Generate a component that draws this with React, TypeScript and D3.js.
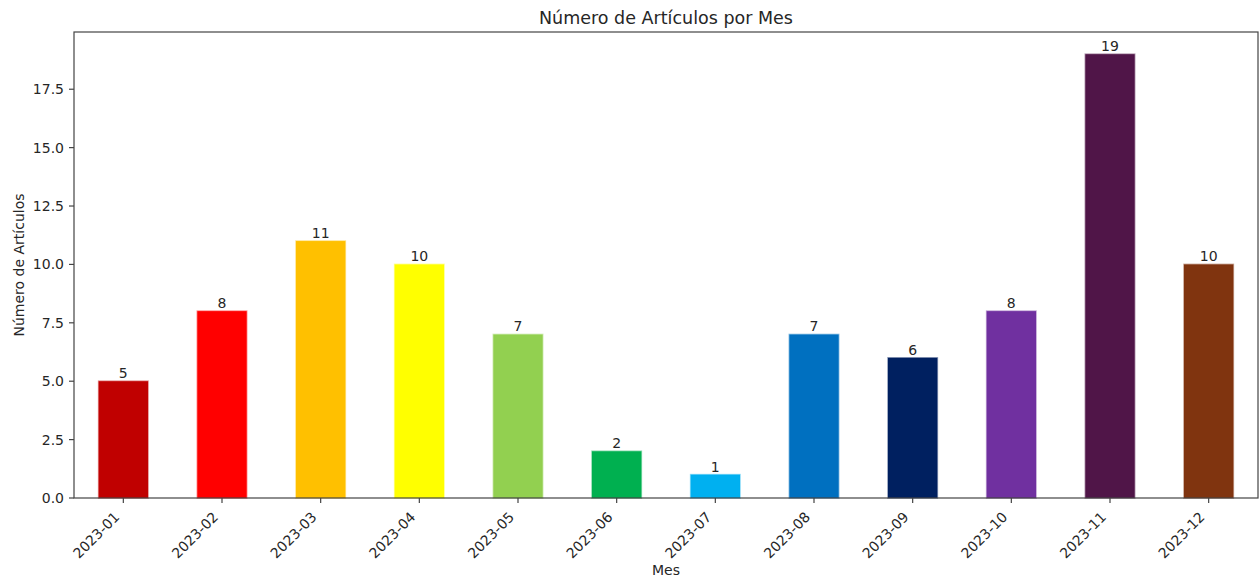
import React from "react";
import * as d3 from "d3";

const months = ["2023-01","2023-02","2023-03","2023-04","2023-05","2023-06","2023-07","2023-08","2023-09","2023-10","2023-11","2023-12"];
const counts = [5, 8, 11, 10, 7, 2, 1, 7, 6, 8, 19, 10];
const colors = ["#C00000","#FF0000","#FFC000","#FFFF00","#92D050","#00B050","#00B0F0","#0070C0","#002060","#7030A0","#501548","#80340F"];
const yTicks = [0, 2.5, 5, 7.5, 10, 12.5, 15, 17.5];

const W = 1260, H = 577;
const M = { left: 74, right: 1258, top: 32, bottom: 498 };
const FONT = "DejaVu Sans, sans-serif";
const TXT = "#262626";
const AX = "#444";
const FS = 14;

export default function App() {
  const x = d3.scaleLinear().domain([-0.5, months.length - 0.5]).range([M.left, M.right]);
  const y = d3.scaleLinear().domain([0, d3.max(counts)! * 1.05]).range([M.bottom, M.top]);
  const bw = x(0.25) - x(-0.25);
  return (
    <svg width={W} height={H} style={{ position: "absolute", left: 0, top: 0, background: "#fff" }} fontFamily={FONT}>
      <text x={(M.left + M.right) / 2} y={24} textAnchor="middle" fontSize={17.5} fill={TXT}>Número de Artículos por Mes</text>
      {counts.map((v, i) => (
        <g key={i}>
          <rect x={x(i) - bw / 2} y={y(v)} width={bw} height={y(0) - y(v)} fill={colors[i]} stroke={colors[i]} strokeOpacity={0.45} strokeWidth={1.6} />
          <text x={x(i)} y={y(v) - 3} textAnchor="middle" fontSize={FS} fill={TXT}>{v}</text>
        </g>
      ))}
      <rect x={M.left} y={M.top} width={M.right - M.left} height={M.bottom - M.top} fill="none" stroke={AX} strokeWidth={1.2} />
      {yTicks.map((t) => (
        <g key={t} transform={`translate(0,${y(t)})`}>
          <line x1={M.left - 5} x2={M.left} stroke={AX} strokeWidth={1.2} />
          <text x={M.left - 10} dy="0.36em" textAnchor="end" fontSize={FS} fill={TXT}>{t.toFixed(1)}</text>
        </g>
      ))}
      {months.map((m, i) => (
        <g key={m}>
          <line x1={x(i)} x2={x(i)} y1={M.bottom} y2={M.bottom + 5} stroke={AX} strokeWidth={1.2} />
          <text transform={`translate(${x(i) - 3},${M.bottom + 20}) rotate(-45)`} textAnchor="end" fontSize={FS} fill={TXT}>{m}</text>
        </g>
      ))}
      <text x={(M.left + M.right) / 2} y={575} textAnchor="middle" fontSize={FS} fill={TXT}>Mes</text>
      <text transform={`translate(24,${(M.top + M.bottom) / 2}) rotate(-90)`} textAnchor="middle" fontSize={FS} fill={TXT}>Número de Artículos</text>
    </svg>
  );
}
